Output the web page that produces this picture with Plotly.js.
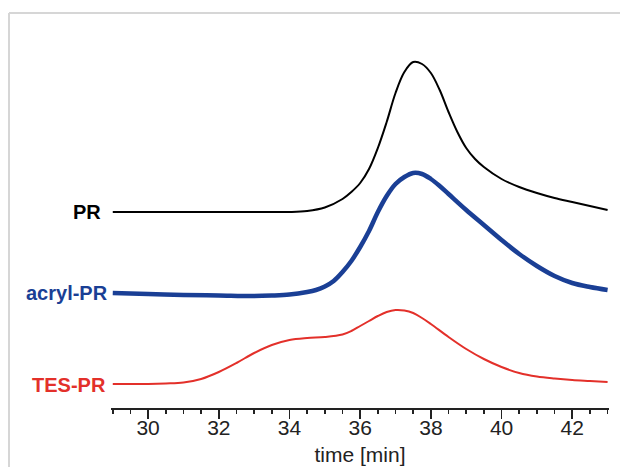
<!DOCTYPE html>
<html>
<head>
<meta charset="utf-8">
<script src="https://cdn.plot.ly/plotly-3.0.1.min.js"></script>
<style>html,body{margin:0;padding:0;background:#fff;}#chart{width:620px;height:467px;}</style>
</head>
<body>
<div id="chart"></div>
<script>
// Retention time (min) and stacked detector signal (arb. units)
const prTime = [29.0,33.0,34.0,34.5,35.0,35.5,35.75,36.0,36.25,36.5,36.75,37.0,37.25,37.5,37.75,38.0,38.25,38.5,38.75,39.0,39.25,39.5,40.0,40.5,41.0,41.5,42.0,42.5,43.0];
const prSignal = [196,196,196,197,200.5,209,216,225,239,260,286,315,336,346,344,335,318,296,276,260,249,241,229,221,215,210,206,202,198];

const acrylTime = [29.0,30.0,31.0,32.0,33.0,33.5,34.0,34.5,34.75,35.0,35.25,35.5,35.75,36.0,36.25,36.5,36.75,37.0,37.25,37.5,37.75,38.0,38.25,38.5,39.0,39.5,40.0,40.5,41.0,41.5,42.0,42.5,43.0];
const acrylSignal = [115,114,113,112.5,112,112.5,113.5,116,118,121.5,127,136,147,161,177,196,212,224,231,235,234,229,222,214,198,183,168,154,142,132,125,121,118];

const tesTime = [29.0,30.0,30.5,31.0,31.5,32.0,32.5,33.0,33.5,34.0,34.5,35.0,35.5,35.75,36.0,36.25,36.5,36.75,37.0,37.25,37.5,37.75,38.0,38.5,39.0,39.5,40.0,40.5,41.0,41.5,42.0,42.5,43.0];
const tesSignal = [24,24,24.5,25.5,29,36,45,55,63,68,70,71,73.5,77,82,87,92,96,98,97.5,95,90,84,71,59,49,41,35,31.5,29.5,28,27,26];

const seriesNames = ["PR","acryl-PR","TES-PR"];
const seriesColors = ["#000000","#1a3f95","#e3302a"];
const xTitle = "time [min]";

const traces = [
  {x: prTime, y: prSignal, name: seriesNames[0], mode: "lines", line: {color: seriesColors[0], width: 2, shape: "spline", smoothing: 1}},
  {x: acrylTime, y: acrylSignal, name: seriesNames[1], mode: "lines", line: {color: seriesColors[1], width: 4.5, shape: "spline", smoothing: 1}},
  {x: tesTime, y: tesSignal, name: seriesNames[2], mode: "lines", line: {color: seriesColors[2], width: 2, shape: "spline", smoothing: 1}}
];

const labelY = [0.496, 0.291, 0.058];
const labelX = [-0.016, -0.002, -0.006];

const layout = {
  width: 620, height: 467,
  margin: {l: 111, r: 11, t: 13, b: 59},
  paper_bgcolor: "#ffffff", plot_bgcolor: "#ffffff",
  showlegend: false,
  font: {family: "Liberation Sans, Arial, sans-serif", color: "#222"},
  xaxis: {
    range: [28.95, 43.04],
    tick0: 30, dtick: 2,
    ticks: "outside", ticklen: 9, tickwidth: 1.5, tickcolor: "#222",
    minor: {dtick: 0.5, ticks: "outside", ticklen: 4, tickwidth: 1.5, tickcolor: "#222", showgrid: false},
    showline: true, linecolor: "#222", linewidth: 1.5,
    showgrid: false, zeroline: false,
    tickfont: {size: 21, color: "#222"},
    ticklabelstandoff: -9,
    title: {text: xTitle, font: {size: 21, color: "#222"}, standoff: 9}
  },
  yaxis: {visible: false, range: [0, 395], fixedrange: true},
  annotations: seriesNames.map((n, i) => ({
    text: "<b>" + n + "</b>", xref: "paper", yref: "paper",
    x: labelX[i], y: labelY[i], xanchor: "right", yanchor: "middle",
    showarrow: false, font: {size: 20, color: seriesColors[i]}
  })),
  shapes: [
    {type: "line", xref: "paper", yref: "paper", x0: -0.2048, x1: -0.2048, y0: 1.0, y1: -0.16, line: {color: "#d6d6d6", width: 2}},
    {type: "line", xref: "paper", yref: "paper", x0: -0.2048, x1: 1.03, y0: 1.0, y1: 1.0, line: {color: "#d6d6d6", width: 2}}
  ]
};

Plotly.newPlot("chart", traces, layout, {displayModeBar: false, staticPlot: true});
</script>
</body>
</html>
